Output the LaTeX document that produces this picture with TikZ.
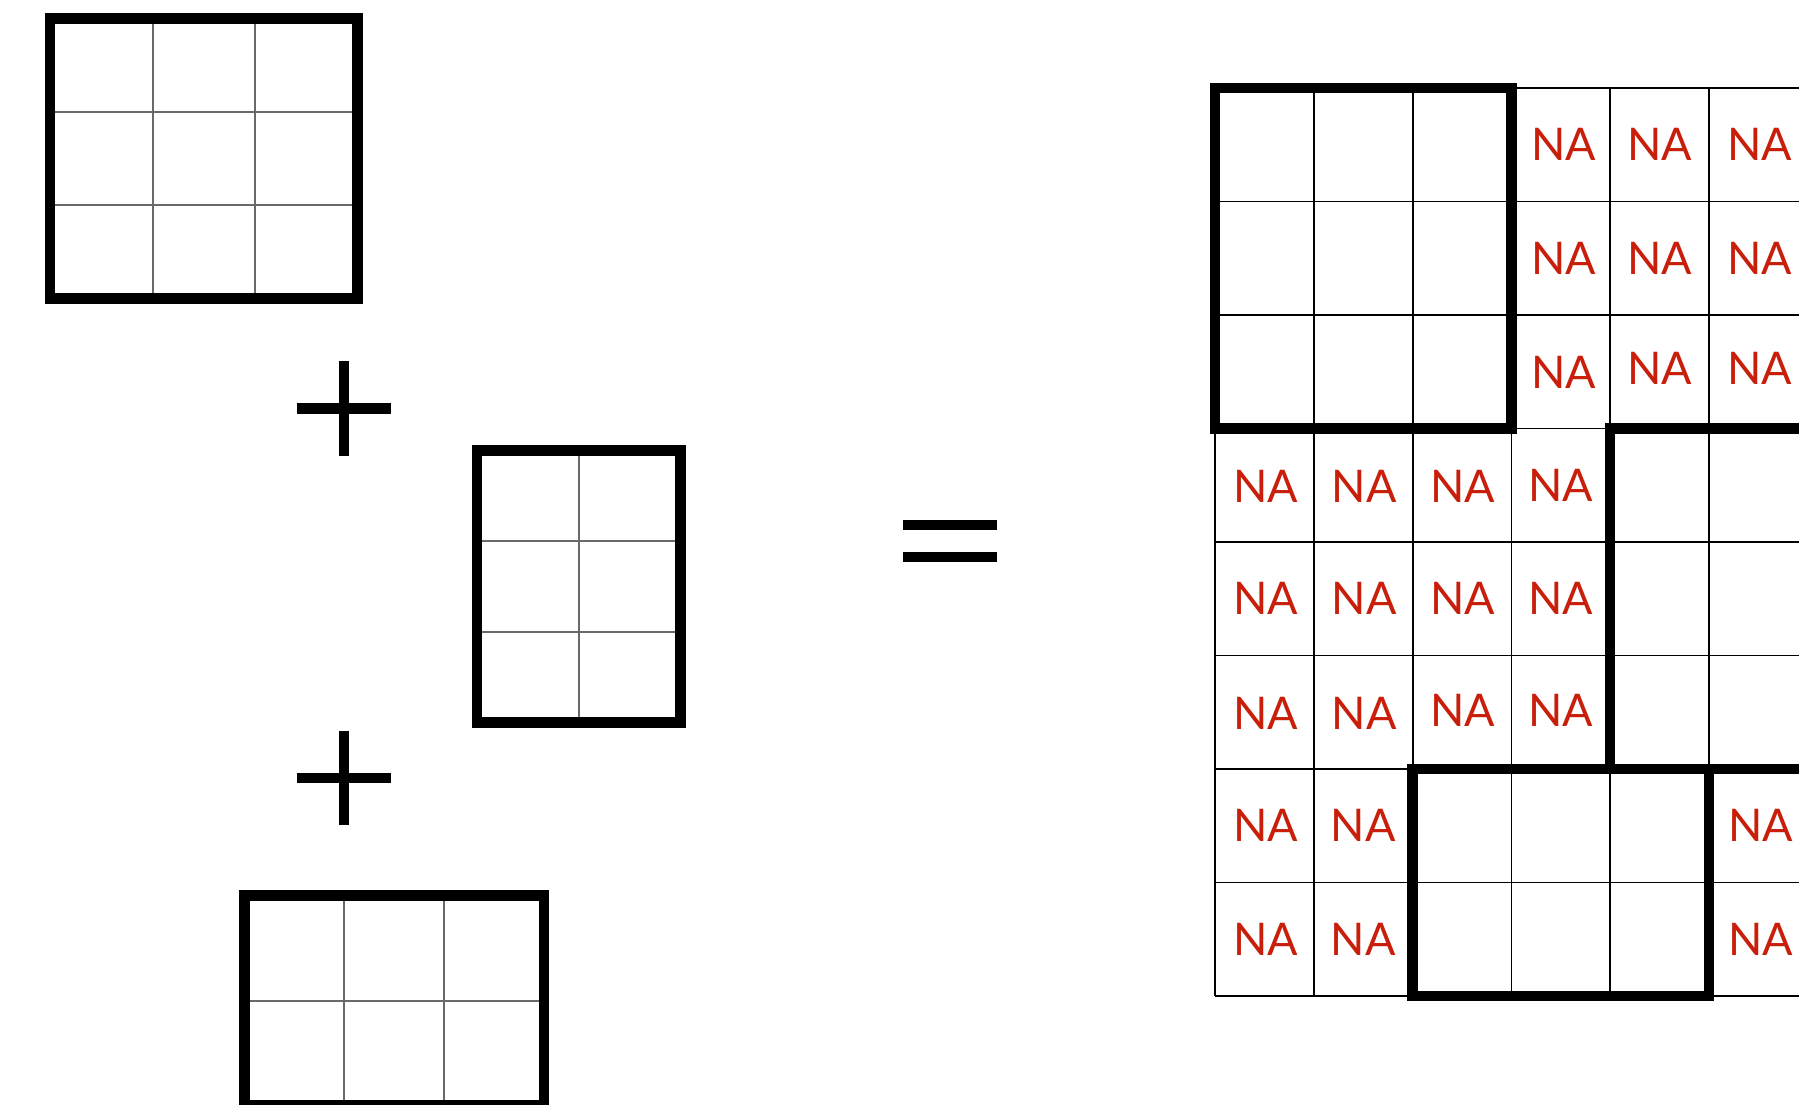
\documentclass[tikz,border=0pt]{standalone}
\usepackage{fontspec}
\newfontfamily\nafont{Lato}
\definecolor{nared}{RGB}{200,30,10}
\definecolor{gridgray}{RGB}{105,105,105}

\tikzset{
  heavy/.style={line width=10.5pt, line join=miter},
  bar/.style={line width=10.5pt, line cap=butt},
  inner/.style={line width=2pt, draw=gridgray},
  fine/.style={line width=1.8pt, draw=black},
  na/.style={text=nared, inner sep=0pt, font=\nafont\fontsize{45}{45}\selectfont}
}

\begin{document}
\begin{tikzpicture}[x=1pt, y=-1pt]
\useasboundingbox (0,0) rectangle (1799,1104);
\fill[white] (0,0) rectangle (1799,1104);
\begin{scope}
\clip (0,0) rectangle (1799,1104);

% ---- first summand: 3 x 3 block ----
\foreach \x in {152.7,255} \draw[inner] (\x,18.5) -- (\x,298.7);
\foreach \y in {112,205} \draw[inner] (50,\y) -- (357.3,\y);
\draw[heavy] (50,18.5) rectangle (357.3,298.7);

% ---- second summand: 3 x 2 block ----
\draw[inner] (578.7,450.7) -- (578.7,722.3);
\foreach \y in {541,632} \draw[inner] (477,\y) -- (680.7,\y);
\draw[heavy] (477,450.7) rectangle (680.7,722.3);

% ---- third summand: 2 x 3 block ----
\foreach \x in {344.3,444} \draw[inner] (\x,895.7) -- (\x,1105);
\draw[inner] (244.7,1000.7) -- (543.8,1000.7);
\draw[heavy] (244.7,895.7) rectangle (543.8,1105);

% ---- plus signs ----
\foreach \cy in {408.5,777.8} {
  \draw[bar] (296.7,\cy) -- (391,\cy);
  \draw[bar] (344,\cy-47.2) -- (344,\cy+47.2);
}

% ---- equals sign ----
\draw[bar] (903.3,525.2) -- (997.3,525.2);
\draw[bar] (903.3,557.2) -- (997.3,557.2);

% ---- combined 8 x 6 result ----
\def\gx{1215}\def\gy{88}\def\cw{98.8}\def\rh{113.5}
\foreach \i in {0,...,6}
  \draw[fine] ({\gx+\i*\cw},\gy) -- ({\gx+\i*\cw},{\gy+8*\rh});
\foreach \j in {0,...,8}
  \draw[fine] (\gx,{\gy+\j*\rh}) -- ({\gx+6*\cw},{\gy+\j*\rh});

% missing entries
\foreach \r/\c/\dx/\dy in {
  1/4/3/0, 1/5/0/0, 1/6/1/0,
  2/4/3/0, 2/5/0/0, 2/6/1/0,
  3/4/3/1, 3/5/0/-3.5, 3/6/1/-3.5,
  4/1/1/1, 4/2/1/1, 4/3/1/1, 4/4/0/0,
  5/1/1/0, 5/2/1/0, 5/3/1/0, 5/4/0/0,
  6/1/1/1, 6/2/1/1, 6/3/1/-2, 6/4/0/-2,
  7/1/1/0, 7/2/0/0, 7/6/2.5/0,
  8/1/1/0, 8/2/0/0, 8/6/2.5/0}
  \node[na] (na\r\c) at ({\gx+(\c-0.5)*\cw+\dx},{\gy+(\r-0.5)*\rh+\dy}) {NA};

% placed blocks
\draw[heavy] (\gx,\gy) rectangle ({\gx+3*\cw},{\gy+3*\rh});
\draw[heavy] ({\gx+4*\cw},{\gy+3*\rh}) rectangle ({\gx+6*\cw},{\gy+6*\rh});
\draw[heavy] ({\gx+2*\cw},{\gy+6*\rh}) rectangle ({\gx+5*\cw},{\gy+8*\rh});
\end{scope}
\end{tikzpicture}
\end{document}
